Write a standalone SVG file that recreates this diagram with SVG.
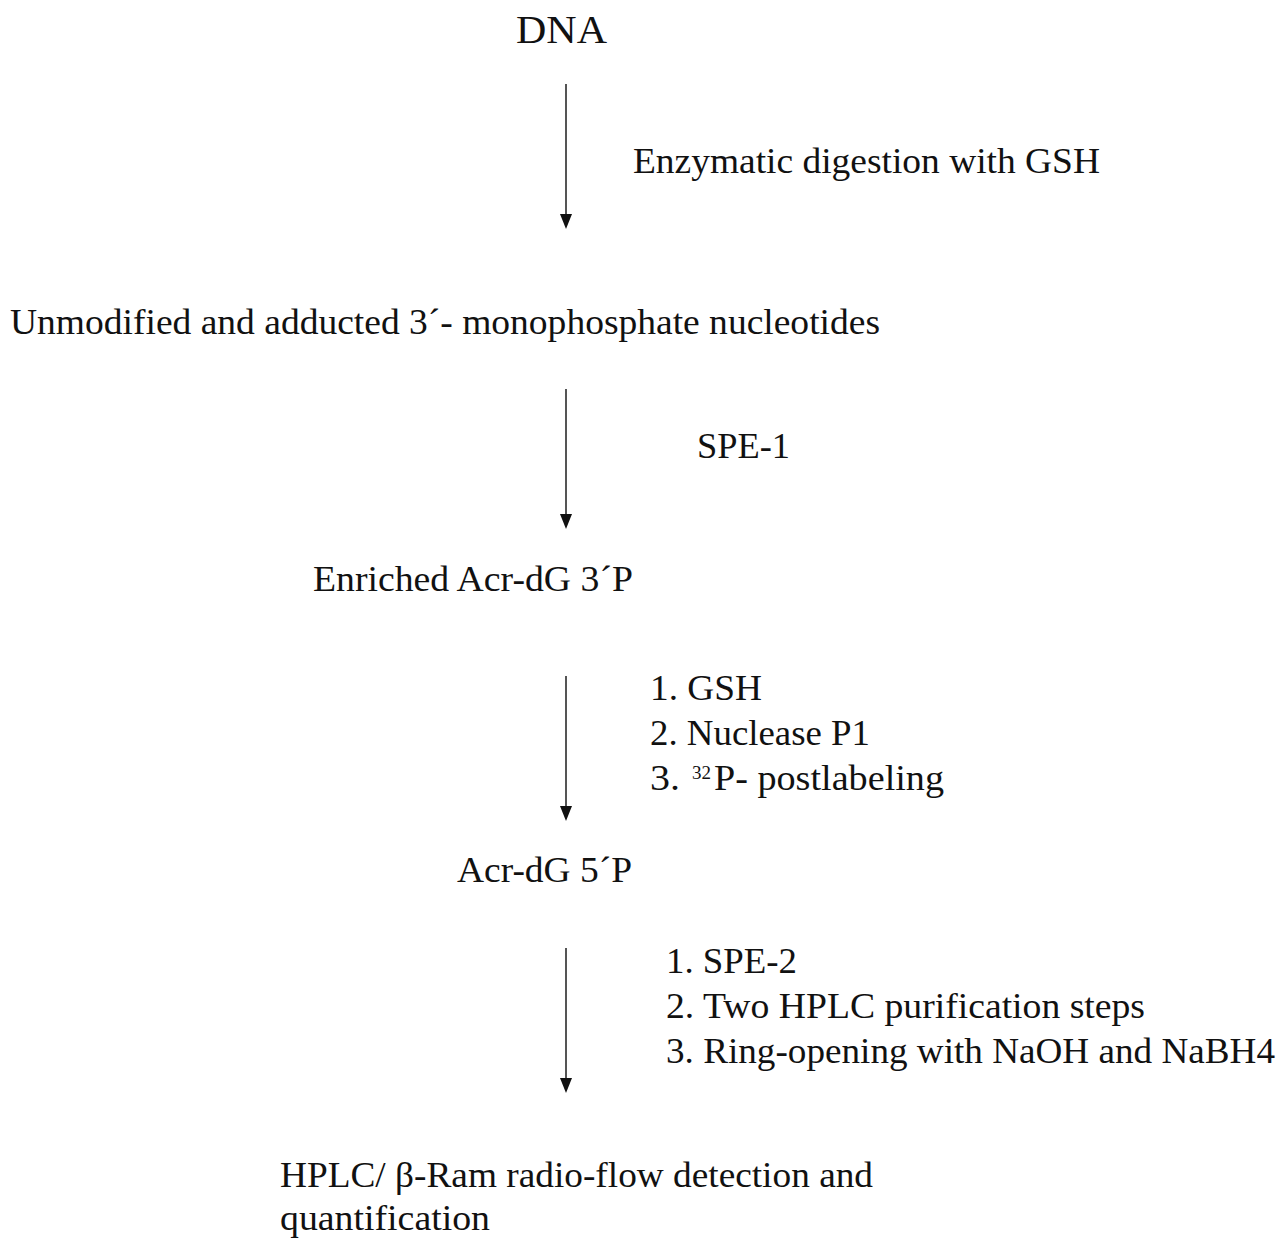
<svg xmlns="http://www.w3.org/2000/svg" width="1279" height="1238" viewBox="0 0 1279 1238">
<style>
text{font-family:'Liberation Serif',serif;font-size:35px;fill:#111}
.big{font-size:40px}
.sup{font-size:19px}
.c{stroke:#555;stroke-width:2;fill:none}
.ah{fill:#111}
</style>
<rect width="1279" height="1238" fill="#fff"/>
<g id="connectors">
<line class="c" x1="566" y1="84" x2="566" y2="216"/>
<path class="ah" d="M560,214 L572,214 L566,229 Z"/>
<line class="c" x1="566" y1="389" x2="566" y2="516"/>
<path class="ah" d="M560,514 L572,514 L566,529 Z"/>
<line class="c" x1="566" y1="676" x2="566" y2="808"/>
<path class="ah" d="M560,806 L572,806 L566,821 Z"/>
<line class="c" x1="566" y1="948" x2="566" y2="1080"/>
<path class="ah" d="M560,1078 L572,1078 L566,1093 Z"/>
</g>
<g id="n-dna"><text class="big" x="516" y="43" textLength="91" lengthAdjust="spacingAndGlyphs">DNA</text></g>
<g id="l-enzymatic"><text x="633" y="173" textLength="467" lengthAdjust="spacingAndGlyphs">Enzymatic digestion with GSH</text></g>
<g id="n-unmodified"><text x="10" y="334" textLength="870" lengthAdjust="spacingAndGlyphs">Unmodified and adducted 3´- monophosphate nucleotides</text></g>
<g id="l-spe1"><text x="697" y="458" textLength="93" lengthAdjust="spacingAndGlyphs">SPE-1</text></g>
<g id="n-enriched"><text x="313" y="591" textLength="320" lengthAdjust="spacingAndGlyphs">Enriched Acr-dG 3´P</text></g>
<g id="l-steps1">
<text x="650" y="700" textLength="112" lengthAdjust="spacingAndGlyphs">1. GSH</text>
<text x="650" y="745" textLength="220" lengthAdjust="spacingAndGlyphs">2. Nuclease P1</text>
<text x="650" y="790" textLength="30" lengthAdjust="spacingAndGlyphs">3.</text>
<text class="sup" x="692" y="779">32</text>
<text x="714" y="790" textLength="230" lengthAdjust="spacingAndGlyphs">P- postlabeling</text>
</g>
<g id="n-acr5"><text x="457" y="882" textLength="175" lengthAdjust="spacingAndGlyphs">Acr-dG 5´P</text></g>
<g id="l-steps2">
<text x="666" y="973" textLength="131" lengthAdjust="spacingAndGlyphs">1. SPE-2</text>
<text x="666" y="1018" textLength="479" lengthAdjust="spacingAndGlyphs">2. Two HPLC purification steps</text>
<text x="666" y="1063" textLength="609" lengthAdjust="spacingAndGlyphs">3. Ring-opening with NaOH and NaBH4</text>
</g>
<g id="n-hplc">
<text x="280" y="1187" textLength="593" lengthAdjust="spacingAndGlyphs">HPLC/ β-Ram radio-flow detection and</text>
<text x="280" y="1230" textLength="210" lengthAdjust="spacingAndGlyphs">quantification</text>
</g>
</svg>
